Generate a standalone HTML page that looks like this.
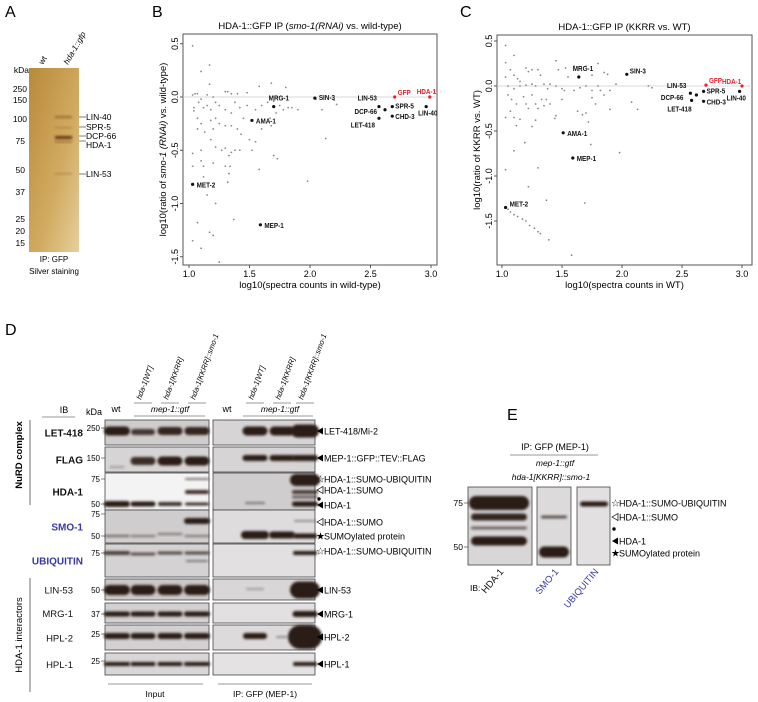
<!DOCTYPE html>
<html><head><meta charset="utf-8"><style>
body{margin:0;background:#fff}
svg{display:block;font-family:"Liberation Sans",sans-serif}
</style></head><body>
<svg id="fig" width="758" height="702" viewBox="0 0 758 702">
<defs>
<filter id="bl" x="-30%" y="-80%" width="160%" height="260%"><feGaussianBlur stdDeviation="1.3"/></filter>
<linearGradient id="gold" x1="0" y1="0" x2="1" y2="1"><stop offset="0" stop-color="#b88a3a"/><stop offset="0.6" stop-color="#d2ab62"/><stop offset="1" stop-color="#e6cf9c"/></linearGradient>
</defs>
<!-- Panel letters -->
<g font-size="16">
<text x="5" y="17">A</text><text x="152" y="17">B</text><text x="460" y="17">C</text><text x="5" y="335">D</text><text x="507" y="420">E</text></g>

<!-- Panel A -->
<g font-size="8">
<text transform="translate(43,65) rotate(-60)" font-size="8">wt</text>
<text transform="translate(68,65) rotate(-60)" font-size="8" font-style="italic">hda-1::gfp</text>
<rect x="29" y="68" width="50" height="184" fill="url(#gold)"/>
<rect x="55" y="116" width="17" height="2" fill="#8a4a20" opacity=".7" filter="url(#bl)"/>
<rect x="55" y="127" width="17" height="1.5" fill="#9a6030" opacity=".5" filter="url(#bl)"/>
<rect x="55" y="136" width="17" height="3" fill="#6a3010" filter="url(#bl)"/>
<rect x="55" y="141" width="17" height="1.5" fill="#7a4020" opacity=".6" filter="url(#bl)"/>
<rect x="55" y="173" width="17" height="1.5" fill="#9a6030" opacity=".5" filter="url(#bl)"/>
<g text-anchor="end" font-size="8.5"><text x="29" y="73">kDa</text><text x="27" y="92">250</text><text x="27" y="103">150</text><text x="27" y="122">100</text><text x="25" y="144">75</text><text x="25" y="173">50</text><text x="25" y="195">37</text><text x="25" y="222">25</text><text x="25" y="234">20</text><text x="25" y="246">15</text></g>
<g font-size="8.5"><path d="M79 117H86M79 127H86M79 136H86M79 141H86M79 174H86" stroke="#000" stroke-width=".6"/>
<text x="86" y="120">LIN-40</text><text x="86" y="130">SPR-5</text><text x="86" y="139">DCP-66</text><text x="86" y="148">HDA-1</text><text x="86" y="177">LIN-53</text></g>
<text x="54" y="262" text-anchor="middle" font-size="8">IP: GFP</text>
<text x="54" y="274" text-anchor="middle" font-size="8">Silver staining</text>
</g>

<g id="plotB"></g>
<g id="plotC"></g>
<g id="panelD"></g>
<g id="panelE"></g>
</svg>
<script>
const NS='http://www.w3.org/2000/svg';
function mk(p,tag,a,txt){const e=document.createElementNS(NS,tag);for(const k in a)e.setAttribute(k,a[k]);if(txt!=null)e.textContent=txt;p.appendChild(e);return e;}

// ---- Scatter B data ----
const bGreyX=[1.03,1.17,1.1,1.17,1.05,1.03,1.07,1.15,1.2,1.3,1.32,1.35,1.4,1.48,1.58,1.68,1.8,1.04,1.04,1.08,1.1,1.12,1.15,1.18,1.22,1.25,1.3,1.35,1.38,1.42,1.45,1.48,1.55,1.6,1.65,1.7,1.75,1.78,1.85,1.9,1.82,1.72,1.67,1.68,1.6,1.07,1.07,1.1,1.13,1.18,1.2,1.22,1.25,1.3,1.35,1.4,1.43,1.5,1.55,1.18,1.22,1.27,1.3,1.35,1.38,1.42,1.52,1.33,1.1,1.03,1.03,1.1,1.12,1.2,1.3,1.34,1.33,1.32,1.12,1.15,1.22,1.07,1.37,1.17,1.2,1.03,1.1,1.25,1.7,1.73,1.58,1.98,2.13,2.1,2.22,2.05,2.2];
const bGreyY=[0.48,0.3,0.24,0.12,0.03,0.02,0.03,0.02,0.0,0.05,0.05,0.03,0.03,0.04,0.1,0.13,0.09,-0.1,-0.13,-0.05,-0.02,-0.1,-0.08,-0.12,-0.05,-0.08,-0.12,-0.15,-0.05,-0.1,-0.2,-0.08,-0.12,-0.08,-0.05,-0.04,-0.08,-0.12,-0.1,-0.12,-0.1,-0.15,-0.2,-0.27,-0.3,-0.2,-0.3,-0.25,-0.33,-0.22,-0.3,-0.2,-0.25,-0.27,-0.27,-0.3,-0.35,-0.4,-0.42,-0.4,-0.47,-0.5,-0.48,-0.52,-0.5,-0.5,-0.5,-0.55,-0.5,-0.53,-0.65,-0.6,-0.65,-0.62,-0.65,-0.65,-0.72,-0.8,-0.75,-0.92,-1.0,-1.18,-1.15,-1.27,-1.3,-1.35,-1.42,-1.55,-0.55,-0.58,-0.68,-0.79,-0.39,-0.12,-0.07,-0.02,-0.03];
const bLabels=['SIN-3','MRG-1','AMA-1','MET-2','MEP-1','LIN-53','DCP-66','LET-418','SPR-5','CHD-3','LIN-40','GFP','HDA-1'];
const bLabX=[2.04,1.7,1.52,1.03,1.59,2.57,2.62,2.57,2.68,2.68,2.96,2.7,2.99];
const bLabY=[-0.01,-0.09,-0.22,-0.82,-1.2,-0.09,-0.12,-0.2,-0.09,-0.18,-0.09,0.0,0.0];
// ---- Scatter C data ----
const cGreyX=[1.03,1.03,1.1,1.07,1.1,1.03,1.13,1.15,1.2,1.22,1.25,1.3,1.32,1.45,1.47,1.53,1.6,1.7,1.8,1.75,1.85,1.88,1.55,1.05,1.1,1.15,1.2,1.25,1.28,1.35,1.38,1.4,1.45,1.5,1.52,1.6,1.65,1.7,1.75,1.8,1.82,1.9,1.95,2.22,2.25,1.05,1.08,1.12,1.18,1.2,1.25,1.28,1.33,1.37,1.4,1.5,1.75,1.78,1.85,1.22,1.3,1.35,1.63,1.67,1.7,1.07,1.1,1.03,1.15,1.28,1.45,1.44,1.9,2.08,2.13,1.12,1.25,1.72,1.19,1.74,1.1,1.98,1.03,1.3,1.22,1.37,1.69,1.05,1.07,1.1,1.13,1.17,1.2,1.23,1.27,1.3,1.32,1.39,1.58];
const cGreyY=[0.45,0.26,0.34,0.18,0.12,0.1,0.08,0.05,0.2,0.16,0.18,0.18,0.12,0.28,0.18,0.2,0.22,0.22,0.25,0.12,0.15,0.13,0.1,0.0,-0.03,0.0,0.01,0.02,0.0,0.02,-0.03,0.02,0.0,-0.03,-0.05,-0.05,-0.02,0.0,-0.05,0.0,-0.05,-0.05,0.02,0.0,-0.02,-0.1,-0.15,-0.2,-0.12,-0.2,-0.1,-0.2,-0.15,-0.15,-0.2,-0.15,-0.13,-0.2,-0.1,-0.25,-0.25,-0.22,-0.28,-0.32,-0.3,-0.28,-0.35,-0.35,-0.37,-0.38,-0.33,-0.36,-0.26,-0.18,-0.26,-0.44,-0.45,-0.4,-0.63,-0.65,-0.72,-0.74,-0.93,-0.91,-1.12,-1.27,-1.3,-1.37,-1.4,-1.43,-1.45,-1.48,-1.5,-1.55,-1.58,-1.62,-1.64,-1.71,-1.88];
const cLabels=['MRG-1','SIN-3','AMA-1','MEP-1','MET-2','LIN-53','DCP-66','LET-418','SPR-5','CHD-3','LIN-40','GFP','HDA-1'];
const cLabX=[1.64,2.04,1.51,1.59,1.03,2.57,2.62,2.58,2.68,2.68,2.98,2.7,3.0];
const cLabY=[0.1,0.13,-0.52,-0.8,-1.35,-0.08,-0.1,-0.16,-0.06,-0.17,-0.06,0.01,0.0];
const xTicks=[1.0,1.5,2.0,2.5,3.0];
const bYTicks=[0.5,0.0,-0.5,-1.0,-1.5];
const cYTicks=[0.5,0.0,-0.5,-1.0,-1.5];

// label offsets (style, not data)
const bOff={'SIN-3':[4,2,'start'],'MRG-1':[-5,-6,'start'],'AMA-1':[4,3,'start'],'MET-2':[4,3,'start'],'MEP-1':[4,3,'start'],'LIN-53':[-2,-6,'end'],'DCP-66':[-8,4,'end'],'LET-418':[-4,9,'end'],'SPR-5':[3,2,'start'],'CHD-3':[3,3,'start'],'LIN-40':[-8,9,'start'],'GFP':[3,-2,'start'],'HDA-1':[-13,-3,'start']};
const cOff={'MRG-1':[-6,-6,'start'],'SIN-3':[3,-1,'start'],'AMA-1':[4,3,'start'],'MEP-1':[4,3,'start'],'MET-2':[4,-1,'start'],'LIN-53':[-4,-5,'end'],'DCP-66':[-13,5,'end'],'LET-418':[0,11,'end'],'SPR-5':[3,2,'start'],'CHD-3':[3,3,'start'],'LIN-40':[-13,9,'start'],'GFP':[3,-2,'start'],'HDA-1':[-20,-2,'start']};

function scatter(g,o){
  const sx=v=>o.x0+(v-1)*o.kx, sy=v=>o.y0-v*o.ky;
  mk(g,'rect',{x:o.L,y:o.T,width:o.R-o.L,height:o.B-o.T,fill:'none',stroke:'#555','stroke-width':1});
  const zl=mk(g,'line',{x1:o.L,x2:o.R,y1:sy(0),y2:sy(0),stroke:'#ccc','stroke-width':0.8});
  
  xTicks.forEach(t=>{mk(g,'line',{x1:sx(t),x2:sx(t),y1:o.B,y2:o.B+3,stroke:'#555'});
    const tl=mk(g,'text',{x:sx(t),y:o.B+12,'text-anchor':'middle','font-size':9},t.toFixed(1));
    });
  o.yt.forEach(t=>{mk(g,'line',{x1:o.L-3,x2:o.L,y1:sy(t),y2:sy(t),stroke:'#555'});
    const tl=mk(g,'text',{transform:`translate(${o.L-5},${sy(t)}) rotate(-90)`,'text-anchor':'middle','font-size':9},t.toFixed(1));
    });
  o.gx.forEach((v,i)=>{const c=mk(g,'circle',{cx:sx(v),cy:sy(o.gy[i]),r:0.9,fill:'#888'});
    });
  o.lab.forEach((n,i)=>{const red=(n==='GFP'||n==='HDA-1');const col=red?'#e8202a':'#111';
    const px=sx(o.lx[i]),py=sy(o.ly[i]);
    const c=mk(g,'circle',{cx:px,cy:py,r:1.6,fill:col});
    
    const f=o.off[n];
    const t=mk(g,'text',{x:px+f[0],y:py+f[1],'text-anchor':f[2],'font-size':7.2,'font-weight':'bold',fill:col,transform:`translate(${(px+f[0])*0.12},0) scale(0.88,1)`},n);
    });
  const ti=mk(g,'text',{x:(o.L+o.R)/2,y:o.T-5,'text-anchor':'middle','font-size':9.5},'');
  ti.innerHTML=o.title;
  const xl=mk(g,'text',{x:(o.L+o.R)/2,y:o.B+23,'text-anchor':'middle','font-size':9.5},o.xl);
  
  const yl=mk(g,'text',{transform:`translate(${o.L-17},${(o.T+o.B)/2}) rotate(-90)`,'text-anchor':'middle','font-size':9.5},'');
  yl.innerHTML=o.yl;
}
scatter(document.getElementById('plotB'),{L:183,R:437,T:34,B:265,x0:189,kx:121,y0:97,ky:106.5,yt:bYTicks,gx:bGreyX,gy:bGreyY,lab:bLabels,lx:bLabX,ly:bLabY,off:bOff,
 title:'HDA-1::GFP IP (<tspan font-style="italic">smo-1(RNAi)</tspan> vs. wild-type)',xl:'log10(spectra counts in wild-type)',yl:'log10(ratio of <tspan font-style="italic">smo-1 (RNAi)</tspan> vs. wild-type)'});
scatter(document.getElementById('plotC'),{L:497,R:752,T:35,B:265,x0:502,kx:120,y0:86,ky:90,yt:cYTicks,gx:cGreyX,gy:cGreyY,lab:cLabels,lx:cLabX,ly:cLabY,off:cOff,
 title:'HDA-1::GFP IP (KKRR vs. WT)',xl:'log10(spectra counts in WT)',yl:'log10(ratio of KKRR vs. WT)'});

// ---- Panel D ----
const D=document.getElementById('panelD');
const inL=[117,143,170,197], ipL=[227,255,282,305];
const rows=[
 {n:'LET-418',t:420,b:445,kd:['250'],kdy:[428],lab:'LET-418',bold:1,col:'#111',bgI:'#cfcccc',bgP:'#d6d4d4'},
 {n:'FLAG',t:447,b:472,kd:['150'],kdy:[458],lab:'FLAG',bold:1,col:'#111',bgI:'#d6d4d4',bgP:'#d6d4d4'},
 {n:'HDA-1',t:473,b:510,kd:['75','50'],kdy:[479,504],lab:'HDA-1',bold:1,col:'#111',bgI:'#f4f3f3',bgP:'#cfcdcd'},
 {n:'SMO-1',t:510,b:543,kd:['75','50'],kdy:[514,536],lab:'SMO-1',bold:1,col:'#3838a8',bgI:'#cfcdcd',bgP:'#dedcdc'},
 {n:'UBIQUITIN',t:544,b:577,kd:['75'],kdy:[553],lab:'UBIQUITIN',bold:1,col:'#3838a8',bgI:'#d4d2d2',bgP:'#e2e0e0'},
 {n:'LIN-53',t:579,b:600,kd:['50'],kdy:[590],lab:'LIN-53',bold:0,col:'#111',bgI:'#cbc8c8',bgP:'#d8d6d6'},
 {n:'MRG-1',t:603,b:623,kd:['37'],kdy:[614],lab:'MRG-1',bold:0,col:'#111',bgI:'#d2d0d0',bgP:'#e2e0e0'},
 {n:'HPL-2',t:625,b:650,kd:['25'],kdy:[634],lab:'HPL-2',bold:0,col:'#111',bgI:'#d2d0d0',bgP:'#dcdada'},
 {n:'HPL-1',t:653,b:675,kd:['25'],kdy:[661],lab:'HPL-1',bold:0,col:'#111',bgI:'#d8d6d6',bgP:'#e4e2e2'}];
// bands: [panel(0 input/1 ip), lane, y, width, height, opacity]
const bands=[
 [0,0,431,26,9,1],[0,1,432,24,6,.85],[0,2,431,25,8,.95],[0,3,431,25,8,.95],
 [1,1,431,25,9,1],[1,2,431,25,9,1],[1,3,431,28,13,1],
 [0,0,467,15,2,.3],[0,1,461,25,8,.9],[0,2,461,25,9,1],[0,3,461,25,9,1],
 [1,1,458,25,6,1],[1,2,458,25,6,1],[1,3,458,26,6,1],
 [0,0,504,26,6,1],[0,1,504,25,5,1],[0,2,504,24,4,.9],[0,3,504,24,3,.9],[0,3,492,24,4,.9],[0,3,479,24,2,.6],
 [1,1,503,20,2,.5],[1,3,480,30,12,1],[1,3,492,26,4,.8],[1,3,497,26,3,.6],[1,3,504,26,5,1],
 [0,3,521,26,6,1],[0,0,536,25,2,.6],[0,1,536,25,2,.5],[0,2,534,25,2,.5],[0,3,536,25,2,.5],
 [1,1,535,28,8,1],[1,2,535,26,7,1],[1,3,536,24,5,1],[1,3,521,22,2,.4],
 [0,0,553,26,4,.8],[0,1,554,25,3,.7],[0,2,553,25,3,.75],[0,3,553,25,3,.75],[0,3,561,22,2,.5],[1,3,553,24,4,1],
 [0,0,590,26,10,1],[0,1,590,25,10,1],[0,2,590,25,10,1],[0,3,590,26,10,1],[1,1,589,18,2,.3],[1,3,590,30,17,1],
 [0,0,614,26,5,1],[0,1,614,25,5,1],[0,2,614,25,5,1],[0,3,614,26,5,1],[1,3,614,25,6,1],
 [0,0,636,26,6,1],[0,1,636,25,6,1],[0,2,636,25,6,1],[0,3,636,26,6,1],[1,1,636,24,6,1],[1,2,637,12,2,.4],[1,3,637,34,24,1],
 [0,0,664,26,4,1],[0,1,664,25,4,1],[0,2,664,25,4,1],[0,3,664,26,4,1],[1,3,664,24,4,1]];
rows.forEach(r=>{
  const a=mk(D,'rect',{x:105,y:r.t,width:104,height:r.b-r.t,fill:r.bgI,stroke:'#444','stroke-width':0.8});
  
  const b=mk(D,'rect',{x:213,y:r.t,width:102,height:r.b-r.t,fill:r.bgP,stroke:'#444','stroke-width':0.8});
  
  r.kd.forEach((k,i)=>{mk(D,'text',{x:100,y:r.kdy[i]+3,'text-anchor':'end','font-size':8},k);mk(D,'line',{x1:101,x2:105,y1:r.kdy[i],y2:r.kdy[i],stroke:'#333','stroke-width':.6});});
  const t=mk(D,'text',{x:r.bold?83:73,y:(r.t+r.b)/2+4,'text-anchor':'end','font-size':r.bold?10:9.5,'font-weight':r.bold?'bold':'normal',fill:r.col},r.lab);
  
});
bands.forEach(bd=>{const cx=(bd[0]?ipL:inL)[bd[1]];
  const e=mk(D,'rect',{x:cx-bd[3]/2,y:bd[2]-bd[4]/2,width:bd[3],height:bd[4],rx:bd[4]/2,fill:'#2a1a16',opacity:bd[5],filter:'url(#bl)'});
  });
// header
[['hda-1[WT]',143],['hda-1[KKRR]',170],['hda-1[KKRR]::smo-1',197],['hda-1[WT]',255],['hda-1[KKRR]',282],['hda-1[KKRR]::smo-1',305]].forEach(h=>{
  mk(D,'text',{transform:`translate(${h[1]-2},400) rotate(-70)`,'font-size':7.5,'font-style':'italic'},h[0]);
  mk(D,'line',{x1:h[1]-9,x2:h[1]+9,y1:403,y2:403,stroke:'#333','stroke-width':.6});});
mk(D,'text',{x:64,y:413,'text-anchor':'middle','font-size':9},'IB');mk(D,'line',{x1:42,x2:75,y1:417,y2:417,stroke:'#333','stroke-width':.6});
mk(D,'text',{x:94,y:415,'text-anchor':'middle','font-size':9},'kDa');
mk(D,'text',{x:116,y:412,'text-anchor':'middle','font-size':9},'wt');mk(D,'text',{x:227,y:412,'text-anchor':'middle','font-size':9},'wt');
mk(D,'text',{x:170,y:412,'text-anchor':'middle','font-size':8.5,'font-style':'italic'},'mep-1::gtf');
mk(D,'text',{x:280,y:412,'text-anchor':'middle','font-size':8.5,'font-style':'italic'},'mep-1::gtf');
mk(D,'line',{x1:134,x2:205,y1:416,y2:416,stroke:'#333','stroke-width':.6});mk(D,'line',{x1:243,x2:313,y1:416,y2:416,stroke:'#333','stroke-width':.6});
mk(D,'text',{transform:'translate(22,455) rotate(-90)','text-anchor':'middle','font-size':9.5,'font-weight':'bold'},'NuRD complex');
mk(D,'line',{x1:30,x2:30,y1:420,y2:505,stroke:'#333','stroke-width':.7});
mk(D,'text',{transform:'translate(22,635) rotate(-90)','text-anchor':'middle','font-size':9.5},'HDA-1 interactors');
mk(D,'line',{x1:30,x2:30,y1:578,y2:692,stroke:'#333','stroke-width':.7});
mk(D,'line',{x1:108,x2:203,y1:684,y2:684,stroke:'#333','stroke-width':.6});mk(D,'line',{x1:218,x2:312,y1:684,y2:684,stroke:'#333','stroke-width':.6});
mk(D,'text',{x:155,y:697,'text-anchor':'middle','font-size':8.5},'Input');mk(D,'text',{x:265,y:697,'text-anchor':'middle','font-size':8.5},'IP: GFP (MEP-1)');
function marks(p,x,list){list.forEach(m=>{const y=m[0],s=m[1];
  if(s==='tri')mk(p,'path',{d:`M${x} ${y}l6 -3.5v7z`,fill:'#000'});
  else if(s==='otri')mk(p,'path',{d:`M${x} ${y}l6 -3.5v7z`,fill:'none',stroke:'#000','stroke-width':.7});
  else if(s==='star'||s==='ostar'){mk(p,'text',{x:x-1,y:y+3.5,'font-size':10,fill:'#000'},s==='star'?'★':'☆');}
  else if(s==='dot')mk(p,'circle',{cx:x+2,cy:y,r:1.7,fill:'#000'});
  if(m[2]){const t=mk(p,'text',{x:x+7,y:y+3.5,'font-size':9},m[2]);}});}
marks(D,317,[[431,'tri','LET-418/Mi-2'],[458,'tri','MEP-1::GFP::TEV::FLAG'],[479,'ostar','HDA-1::SUMO-UBIQUITIN'],[490,'otri','HDA-1::SUMO'],[499,'dot'],[505,'tri','HDA-1'],[522,'otri','HDA-1::SUMO'],[536,'star','SUMOylated protein'],[551,'ostar','HDA-1::SUMO-UBIQUITIN'],[590,'tri','LIN-53'],[614,'tri','MRG-1'],[637,'tri','HPL-2'],[664,'tri','HPL-1']]);

// ---- Panel E ----
const E=document.getElementById('panelE');
[[468,532,'#d8d6d6'],[537,571,'#dcdada'],[577,610,'#e2e0e0']].forEach((b,i)=>{const r=mk(E,'rect',{x:b[0],y:487,width:b[1]-b[0],height:78,fill:b[2],stroke:'#444','stroke-width':.8});
 });
[[499,503,60,14,1],[499,517,56,7,.95],[499,528,56,3,.6],[499,541,56,9,1],[554,517,26,3,.7],[554,552,30,11,1],[594,504,28,5,1]].forEach(b=>{
 const e=mk(E,'rect',{x:b[0]-b[2]/2,y:b[1]-b[3]/2,width:b[2],height:b[3],rx:b[3]/2,fill:'#2a1a16',opacity:b[4],filter:'url(#bl)'});
 });
mk(E,'text',{x:555,y:450,'text-anchor':'middle','font-size':9},'IP: GFP (MEP-1)');
mk(E,'line',{x1:510,x2:598,y1:455,y2:455,stroke:'#333','stroke-width':.6});
mk(E,'text',{x:555,y:466,'text-anchor':'middle','font-size':8.5,'font-style':'italic'},'mep-1::gtf');
mk(E,'text',{x:551,y:480,'text-anchor':'middle','font-size':8.5,'font-style':'italic'},'hda-1[KKRR]::smo-1');
[['75',503],['50',547]].forEach(k=>{mk(E,'text',{x:463,y:k[1]+3,'text-anchor':'end','font-size':8.5},k[0]);mk(E,'line',{x1:464,x2:468,y1:k[1],y2:k[1],stroke:'#333','stroke-width':.6});});
mk(E,'text',{x:470,y:591,'font-size':8.5},'IB:');
[['HDA-1',500,'#111'],['SMO-1',555,'#3838a8'],['UBIQUITIN',595,'#3838a8']].forEach(l=>{const t=mk(E,'text',{transform:`translate(${l[1]+4},572) rotate(-50)`,'text-anchor':'end','font-size':9.5,fill:l[2]},l[0]);
 });
marks(E,612,[[503,'ostar','HDA-1::SUMO-UBIQUITIN'],[517,'otri','HDA-1::SUMO'],[529,'dot'],[541,'tri','HDA-1'],[553,'star','SUMOylated protein']]);
</script>
</body></html>
